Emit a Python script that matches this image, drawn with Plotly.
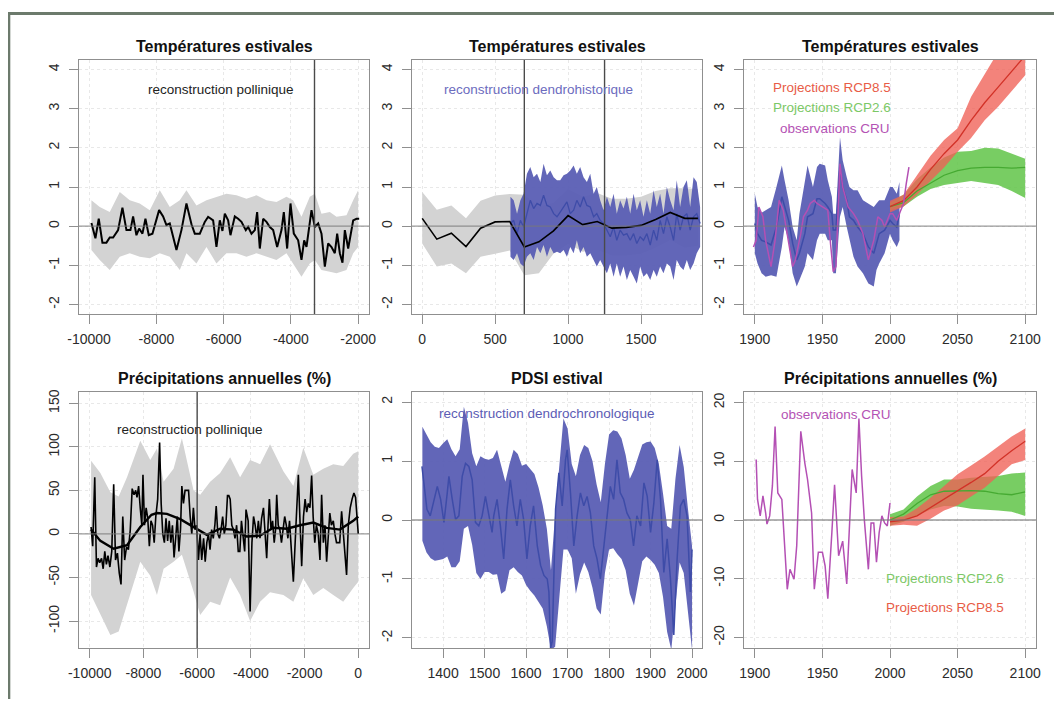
import plotly.graph_objects as go

# page is 1062x707; the html body has an 8px margin, so the figure is 16px smaller
PAGE_W, PAGE_H = 1062, 707
OFF = 8
W, H = PAGE_W - 2 * OFF, PAGE_H - 2 * OFF

# ---------------- DATA ----------------
# Panel 1 : Températures estivales, reconstruction pollinique
p1_years = [-9931,-9812,-9713,-9604,-9485,-9386,-9286,-9138,-9009,-8890,
            -8771,-8692,-8593,-8513,-8414,-8325,-8226,-8117,-7919,-7800,
            -7701,-7602,-7403,-7255,-7106,-6957,-6858,-6709,-6561,-6462,
            -6313,-6214,-6115,-6036,-5966,-5867,-5798,-5669,-5570,-5471,
            -5342,-5272,-5173,-5074,-5005,-4926,-4826,-4727,-4628,-4529,
            -4410,-4281,-4212,-4113,-4014,-3915,-3786,-3687,-3607,-3538,
            -3389,-3290,-3191,-3092,-2993,-2894,-2795,-2696,-2626,-2547,
            -2468,-2398,-2299,-2150,-2051,-1972]
p1_temp = [0.08,-0.31,0.19,-0.42,-0.42,-0.29,-0.29,-0.10,0.47,-0.10,
           -0.10,0.25,-0.23,-0.06,-0.19,0.19,-0.23,-0.19,0.41,0.25,
           0.03,0.07,-0.61,-0.10,0.58,0.05,-0.19,-0.19,0.11,0.24,
           0.15,-0.53,0.15,-0.12,0.32,0.15,-0.23,0.25,0.19,0.11,
           -0.10,-0.02,-0.19,-0.10,0.36,-0.57,0.19,0.11,-0.02,-0.10,
           -0.53,-0.10,0.36,-0.57,0.58,-0.19,-0.36,-0.86,-0.36,-0.53,
           0.41,-0.02,0.07,-0.19,-1.03,-0.44,-0.53,-0.69,-0.19,-0.69,
           -0.93,-0.10,-0.57,0.15,0.19,0.19]
p1_band_years = [-9931,-9683,-9386,-9088,-8791,-8494,-8196,-7899,-7602,-7304,
                 -7106,-6809,-6511,-6214,-5917,-5619,-5322,-5025,-4727,-4430,
                 -4133,-3935,-3687,-3439,-3290,-3092,-2845,-2646,-2349,-2150,-2002]
p1_band_upper = [0.66,0.49,0.36,0.87,0.66,0.58,0.41,0.92,0.49,0.66,
                 0.92,0.53,0.66,0.75,0.83,0.79,0.70,0.79,0.66,0.62,
                 0.75,0.66,0.24,0.75,0.83,0.32,0.36,0.24,0.28,0.66,0.92]
p1_band_lower = [-0.61,-0.86,-1.12,-0.78,-0.69,-0.78,-0.82,-0.69,-0.78,-1.12,
                 -0.69,-0.95,-0.53,-0.95,-0.69,-0.69,-0.78,-0.69,-0.78,-0.86,
                 -0.69,-0.95,-1.29,-0.95,-0.86,-1.12,-1.16,-1.20,-1.12,-0.69,-0.53]
p1_vline = -3300

# Panel 2 : Températures estivales, reconstruction dendrohistorique
p2_years = [0,100,200,300,400,500,600,700,800,900,
            1000,1100,1200,1300,1400,1500,1600,1700,1800,1890]
p2_pollen = [0.2,-0.33,-0.18,-0.52,-0.05,0.11,0.12,-0.53,-0.4,-0.12,
             0.27,0.04,0.12,-0.05,-0.03,0.02,0.17,0.35,0.2,0.2]
p2_pollen_upper = [0.87,0.42,0.53,0.2,0.65,0.78,0.82,0.8,0.5,0.6,
                   0.95,0.75,0.85,0.7,0.7,0.75,0.9,0.97,0.97,0.95]
p2_pollen_lower = [-0.44,-1.03,-0.95,-1.2,-0.78,-0.7,-0.62,-1.25,-1.2,-0.7,
                   -0.45,-0.65,-0.6,-0.75,-0.75,-0.7,-0.55,-0.35,-0.55,-0.5]
p2_dendro_years = [605,627,650,673,695,718,741,764,787,810,
                   832,855,878,901,924,946,969,992,1015,1038,
                   1060,1083,1106,1129,1152,1175,1197,1220,1243,1266,
                   1289,1312,1334,1357,1380,1403,1426,1449,1471,1494,
                   1517,1540,1563,1586,1608,1631,1654,1677,1700,1723,
                   1745,1768,1791,1814,1837,1860,1882,1905]
p2_dendro_upper = [0.75,0.66,0.32,0.66,0.83,1.34,1.51,1.25,1.34,1.13,
                   1.59,1.30,1.42,1.25,1.17,1.17,1.30,1.34,1.42,1.55,
                   1.34,1.51,1.25,1.13,1.34,0.83,1.00,0.66,0.41,0.75,
                   0.49,0.83,0.32,0.66,0.45,0.75,0.32,0.83,0.41,0.66,
                   0.24,0.66,0.32,0.92,0.49,0.83,0.32,1.00,0.66,0.41,
                   1.17,0.49,1.00,1.17,0.49,1.25,1.13,0.49]
p2_dendro_lower = [-0.78,-0.86,-0.69,-0.95,-1.03,-0.78,-0.69,-0.86,-0.53,-0.69,
                   -0.48,-0.78,-0.53,-0.69,-0.65,-0.69,-0.61,-0.78,-0.53,-0.69,
                   -0.36,-0.69,-0.53,-0.78,-0.69,-0.86,-1.03,-0.86,-1.03,-1.20,
                   -0.95,-1.29,-0.95,-1.29,-1.03,-1.37,-1.12,-1.29,-1.46,-1.03,
                   -1.29,-1.20,-1.37,-1.12,-1.29,-1.03,-1.20,-0.95,-1.03,-1.37,
                   -0.86,-1.03,-1.12,-0.86,-1.12,-0.95,-0.69,-0.53]
p2_dendro_mid = [0.07,0.15,-0.19,0.15,-0.02,0.32,0.66,0.45,0.58,0.53,
                 0.79,0.53,0.49,0.32,0.24,0.36,0.49,0.62,0.32,0.41,
                 0.66,0.49,0.75,0.53,0.49,0.24,0.32,0.15,0.07,-0.10,
                 -0.27,-0.02,-0.36,-0.10,-0.23,-0.19,-0.36,-0.19,-0.44,-0.27,
                 -0.36,-0.19,-0.48,-0.10,-0.36,0.15,-0.19,0.24,-0.02,-0.36,
                 0.32,-0.10,0.24,0.32,-0.10,0.24,0.32,0.07]
p2_vlines = [700, 1250]

# Panel 3 : Températures estivales, observations & projections
p3_obs_years = [1900,1902,1905,1908,1912,1916,1920,1922,1925,1928,
                1931,1933,1937,1939,1943,1946,1948,1952,1954,1957,
                1958,1960,1963,1965,1968,1970,1973,1976,1980,1984,
                1988,1990,1992,1996,2000,2002,2005,2007]
p3_obs_upper = [0.83,0.49,0.34,0.41,0.49,1.00,1.55,1.17,0.66,-0.02,
                -0.36,0.32,1.08,1.55,1.00,1.51,1.59,1.55,1.17,0.75,
                0.32,0.32,2.27,1.68,1.25,1.00,0.92,0.92,0.66,0.58,
                0.49,0.58,0.66,0.66,1.00,1.00,0.83,1.13]
p3_obs_lower = [-0.69,-0.95,-1.20,-1.29,-1.25,-1.29,-0.53,-0.02,-0.36,-1.20,
                -1.54,-1.37,-1.03,-0.69,-0.86,-0.36,-0.19,-0.19,-0.36,-0.36,
                -1.20,-1.20,0.24,0.49,-0.02,-0.36,-0.78,-1.03,-1.20,-1.46,
                -1.54,-1.12,-0.95,-0.69,-0.19,-0.36,-0.53,-0.36]
p3_obs_mid = [0.07,-0.19,-0.36,-0.40,-0.48,-0.02,0.75,0.49,0.15,-0.44,
              -0.86,-0.69,-0.19,0.24,0.32,0.70,0.70,0.58,0.49,0.32,
              -0.10,-0.10,1.51,1.00,0.66,0.24,0.15,-0.02,-0.19,-0.53,
              -0.69,-0.44,-0.19,-0.10,0.15,0.07,-0.02,0.32]
p3_cru_years = [1899,1901,1903,1906,1908,1912,1915,1918,1921,1924,
                1928,1930,1934,1936,1939,1941,1944,1946,1950,1954,
                1956,1958,1960,1963,1965,1969,1973,1976,1980,1984,
                1988,1991,1994,1996,2000,2002,2005,2007,2010,2012,2014]
p3_cru = [-0.53,-0.36,0.49,0.24,-0.36,-1.03,-0.36,0.66,0.41,-0.19,
          -1.03,-0.86,-0.19,0.24,0.41,0.58,0.66,0.58,0.49,0.41,
          -0.44,-1.16,-1.03,1.59,1.00,0.49,0.32,0.15,-0.19,-0.86,
          -0.36,0.24,0.15,-0.02,0.32,0.32,0.15,0.32,0.58,1.08,1.51]
proj_years = [2000,2010,2020,2030,2040,2050,2060,2070,2080,2090,2100]
p3_rcp85_mid = [0.5,0.65,1.0,1.45,1.85,2.2,2.7,3.15,3.55,3.95,4.35]
p3_rcp85_upper = [0.65,0.8,1.3,1.8,2.2,2.5,3.3,3.9,4.45,5.0,5.5]
p3_rcp85_lower = [0.35,0.5,0.8,1.15,1.5,1.9,2.25,2.7,3.05,3.45,3.85]
p3_rcp26_mid = [0.5,0.6,0.9,1.1,1.3,1.42,1.48,1.5,1.5,1.48,1.5]
p3_rcp26_upper = [0.6,0.8,1.2,1.5,1.75,1.9,1.92,2.0,1.98,1.85,1.72]
p3_rcp26_lower = [0.4,0.5,0.75,0.95,1.05,1.1,1.15,1.1,1.05,0.9,0.72]

# Panel 4 : Précipitations annuelles (%), reconstruction pollinique
p4_years = [-9950,-9890,-9814,-9750,-9690,-9630,-9560,-9500,-9440,-9380,
            -9320,-9250,-9180,-9108,-9040,-8970,-8900,-8835,-8770,-8700,
            -8630,-8560,-8490,-8420,-8350,-8290,-8240,-8180,-8120,-8060,
            -8018,-7960,-7900,-7840,-7780,-7720,-7660,-7600,-7540,-7470,
            -7398,-7340,-7280,-7220,-7160,-7100,-7040,-6980,-6920,-6860,
            -6800,-6740,-6680,-6620,-6570,-6510,-6450,-6390,-6320,-6260,
            -6200,-6140,-6080,-6020,-5950,-5890,-5830,-5760,-5700,-5640,
            -5580,-5520,-5460,-5400,-5340,-5290,-5230,-5170,-5110,-5050,
            -4990,-4930,-4870,-4820,-4770,-4710,-4650,-4590,-4530,-4470,
            -4410,-4350,-4290,-4230,-4180,-4100,-4028,-3960,-3900,-3840,
            -3780,-3720,-3660,-3600,-3530,-3470,-3410,-3360,-3310,-3250,
            -3190,-3130,-3080,-3037,-2980,-2920,-2860,-2800,-2740,-2680,
            -2620,-2560,-2500,-2460,-2417,-2320,-2231,-2170,-2107,-2040,
            -1980,-1920,-1860,-1800,-1736,-1680,-1620,-1560,-1490,-1426,
            -1364,-1300,-1240,-1178,-1120,-1060,-1000,-930,-870,-810,
            -750,-690,-620,-560,-500,-435,-370,-300,-230,-162,
            -100,-40,0]
p4_prec = [8,-14,65,-38,-28,-33,-28,-40,-20,-35,
           -25,-38,-20,57,-30,-22,-45,-58,20,-30,
           -15,-18,5,52,45,50,42,55,30,10,
           68,10,30,18,-14,15,10,-10,20,40,
           105,35,0,-10,18,-8,15,-10,10,-27,
           -5,20,-20,5,55,35,50,50,50,20,
           0,30,5,10,-30,0,-30,-5,-32,-10,
           0,-18,5,-5,10,32,0,-5,5,20,
           0,10,44,44,40,10,5,-5,10,-20,
           -20,15,-5,-20,28,15,-89,-10,20,10,
           -5,15,-5,18,30,5,-28,10,40,5,
           15,-10,5,45,10,5,-10,5,20,10,
           -5,15,-20,-30,-55,10,68,15,-37,20,
           40,25,35,30,67,20,-10,10,0,-30,
           45,-10,10,-32,0,24,10,15,0,-10,
           -10,-10,26,5,-20,-47,10,30,40,47,
           42,20,0]
p4_smooth_years = [-9950,-9604,-9108,-8612,-8117,-7700,-7497,-7125,-6630,-6134,
                   -5639,-5143,-4647,-4152,-3656,-3160,-2665,-2169,-1674,-1178,
                   -683,-187,0]
p4_smooth = [5,-8,-17,-13,8,22,24,23,17,8,
             -1,6,5,-3,-2,7,6,10,13,7,
             5,15,20]
p4_band_years = [-9950,-9604,-9232,-8922,-8612,-8117,-7745,-7497,-7249,-6878,
                 -6568,-6134,-5887,-5515,-5143,-4771,-4400,-4028,-3656,-3285,
                 -2789,-2417,-2046,-1674,-1302,-931,-559,-187,0]
p4_band_upper = [84,70,48,43,65,107,85,98,60,75,
                 110,50,45,60,70,88,65,85,80,103,
                 72,55,99,68,75,80,78,92,95]
p4_band_lower = [-70,-93,-116,-112,-80,-32,-48,-70,-40,-32,
                 -24,-66,-93,-78,-82,-50,-70,-100,-78,-67,
                 -70,-78,-51,-70,-62,-70,-78,-62,-55]
p4_vline = -6000

# Panel 5 : PDSI estival, reconstruction dendrochronologique
p5_band_years = [1350,1360,1370,1380,1390,1400,1410,1420,1430,1440,
                 1450,1460,1470,1480,1490,1500,1510,1520,1530,1540,
                 1550,1560,1570,1580,1590,1600,1610,1620,1630,1640,
                 1650,1660,1670,1680,1690,1700,1710,1720,1730,1740,
                 1750,1760,1770,1780,1790,1800,1810,1820,1830,1840,
                 1850,1860,1870,1880,1890,1900,1910,1920,1930,1940,
                 1950,1960,1970,1980,1990,2000]
p5_upper = [1.58,1.45,1.32,1.24,1.22,1.30,1.37,1.20,1.08,1.20,
            1.92,1.65,1.13,0.91,1.08,1.04,1.02,1.05,1.19,0.92,
            0.65,0.95,1.19,1.12,0.92,0.95,0.86,0.78,0.55,0.25,
            -0.15,-0.85,0.10,0.85,1.72,1.55,0.95,0.74,1.10,1.27,
            1.22,1.00,0.60,0.30,0.95,1.45,1.52,1.50,1.38,1.10,
            0.70,0.85,1.05,1.28,1.32,1.33,1.22,0.95,0.45,-0.10,
            -0.15,0.70,1.27,0.90,0.20,-0.44]
p5_lower = [-0.35,-0.55,-0.65,-0.69,-0.68,-0.66,-0.62,-0.80,-0.80,-0.70,
            -0.15,-0.10,-0.42,-0.90,-1.00,-0.88,-0.88,-0.93,-0.92,-1.25,
            -1.20,-0.85,-0.80,-0.88,-0.94,-1.10,-1.20,-1.28,-1.38,-1.50,
            -1.80,-2.20,-2.15,-1.35,-0.50,-0.50,-0.65,-1.25,-0.92,-0.72,
            -0.88,-1.15,-1.50,-1.60,-0.90,-0.50,-0.48,-0.58,-0.66,-0.85,
            -1.25,-1.45,-1.10,-0.70,-0.62,-0.68,-0.76,-0.90,-1.30,-1.90,
            -2.20,-1.40,-0.72,-0.90,-1.50,-2.20]
p5_line_years = [1349,1353,1361,1369,1378,1386,1394,1402,1410,1414,
                 1422,1430,1438,1446,1454,1462,1470,1478,1486,1494,
                 1502,1510,1518,1522,1530,1538,1546,1554,1562,1570,
                 1578,1586,1594,1602,1610,1618,1627,1635,1643,1651,
                 1655,1659,1663,1671,1679,1687,1695,1699,1707,1715,
                 1723,1731,1739,1747,1755,1763,1771,1779,1787,1795,
                 1803,1811,1819,1827,1835,1843,1851,1859,1867,1876,
                 1884,1892,1900,1908,1916,1924,1932,1940,1948,1956,
                 1964,1972,1980,1988,1996,2000]
p5_pdsi = [0.91,0.63,0.18,0.07,0.35,0.57,0.35,-0.04,0.46,0.74,
           0.35,0.01,0.07,0.74,0.96,0.91,0.68,-0.04,-0.10,0.07,
           0.40,0.12,-0.21,0.07,0.35,-0.10,-0.66,0.18,0.68,0.24,
           -0.10,0.35,0.01,-0.66,-0.10,0.24,-0.44,-0.77,-0.94,-1.00,
           -1.22,-2.17,-2.06,0.18,0.80,0.24,1.02,1.19,0.46,-0.44,
           0.07,0.46,0.24,0.40,0.12,-0.44,-0.66,-1.00,-0.44,0.12,
           0.57,0.35,1.02,0.46,0.35,0.12,0.01,-0.44,0.07,-0.10,
           0.63,0.40,-0.21,0.29,1.02,0.35,-0.89,-0.32,-1.00,-1.95,
           -0.66,0.24,0.35,0.07,-1.22,-0.50]

# Panel 6 : Précipitations annuelles (%), observations & projections
p6_cru_years = [1901,1902,1904,1906,1908,1909,1911,1913,1915,1917,
                1920,1922,1924,1926,1929,1931,1934,1937,1939,1942,
                1944,1947,1950,1952,1954,1957,1959,1962,1965,1968,
                1971,1972,1975,1977,1979,1981,1984,1986,1988,1990,
                1992,1994,1996,1998,2000]
p6_cru = [10.3,3.5,0.7,4.1,1.2,-0.7,0.7,5.8,15.9,4.6,
          3.5,-4.4,-11.8,-8.4,-10.1,-4.4,15.1,9.7,6.9,1.2,
          -11.8,-5.5,-5.5,-7.8,-13.4,-2.1,6.0,-6.1,-3.6,-10.9,
          2.9,8.6,4.6,17.3,7.5,0.1,-8.4,-0.5,-0.5,-7.2,
          -2.1,0.7,-0.5,-1.0,2.9]
p6_rcp85_mid = [-0.3,0.0,0.7,2.1,3.5,4.9,6.4,7.9,10.0,11.8,13.4]
p6_rcp85_upper = [0.5,0.6,2.0,3.8,5.8,7.8,9.3,10.8,12.5,14.2,15.6]
p6_rcp85_lower = [-1.0,-0.8,-1.0,0.2,1.6,2.5,4.0,5.5,7.5,9.5,10.2]
p6_rcp26_mid = [0.0,1.0,2.8,4.3,4.9,5.0,5.0,4.9,4.5,4.3,4.8]
p6_rcp26_upper = [1.0,1.8,4.0,5.8,6.9,6.9,7.2,7.4,7.5,7.9,8.1]
p6_rcp26_lower = [-1.0,-0.3,0.8,1.8,2.4,2.3,1.9,1.7,1.6,1.4,0.7]

titles = ["Températures estivales", "Températures estivales", "Températures estivales",
          "Précipitations annuelles (%)", "PDSI estival", "Précipitations annuelles (%)"]

# ---------------- STYLE ----------------
GRAY_BAND = "rgb(211,211,211)"
BLUE_BAND = "rgba(90,94,180,0.95)"
BLUE_LINE = "rgb(62,76,168)"
MAGENTA = "rgb(180,80,180)"
RED_BAND = "rgba(240,96,86,0.78)"
RED_LINE = "rgb(210,50,40)"
GREEN_BAND = "rgba(96,196,72,0.85)"
GREEN_LINE = "rgb(70,170,50)"
FONT = "Liberation Sans, Arial, Helvetica, sans-serif"

fig = go.Figure()

def ax(n, kind):
    return kind if n == "1" else kind + n

def band(x, up, lo, color, n):
    fig.add_trace(go.Scatter(x=list(x) + list(x)[::-1], y=list(up) + list(lo)[::-1],
                             fill="toself", fillcolor=color, mode="lines",
                             line=dict(width=0), hoverinfo="skip", showlegend=False,
                             xaxis=ax(n, "x"), yaxis=ax(n, "y")))

def line(x, y, color, width, n):
    fig.add_trace(go.Scatter(x=x, y=y, mode="lines", line=dict(color=color, width=width),
                             hoverinfo="skip", showlegend=False,
                             xaxis=ax(n, "x"), yaxis=ax(n, "y")))

# Panel 1
band(p1_band_years, p1_band_upper, p1_band_lower, GRAY_BAND, "1")
line(p1_years, p1_temp, "black", 2, "1")
# Panel 2
band(p2_years, p2_pollen_upper, p2_pollen_lower, GRAY_BAND, "2")
band(p2_dendro_years, p2_dendro_upper, p2_dendro_lower, BLUE_BAND, "2")
line(p2_dendro_years, p2_dendro_mid, BLUE_LINE, 1.3, "2")
line(p2_years, p2_pollen, "black", 1.6, "2")
# Panel 3
band(p3_obs_years, p3_obs_upper, p3_obs_lower, BLUE_BAND, "3")
line(p3_obs_years, p3_obs_mid, BLUE_LINE, 1.5, "3")
band(proj_years, p3_rcp26_upper, p3_rcp26_lower, GREEN_BAND, "3")
band(proj_years, p3_rcp85_upper, p3_rcp85_lower, RED_BAND, "3")
line(proj_years, p3_rcp26_mid, GREEN_LINE, 1.3, "3")
line(proj_years, p3_rcp85_mid, RED_LINE, 1.3, "3")
line(p3_cru_years, p3_cru, MAGENTA, 1.5, "3")
# Panel 4
band(p4_band_years, p4_band_upper, p4_band_lower, GRAY_BAND, "4")
line(p4_years, p4_prec, "black", 1.6, "4")
line(p4_smooth_years, p4_smooth, "black", 2.4, "4")
# Panel 5
band(p5_band_years, p5_upper, p5_lower, BLUE_BAND, "5")
line(p5_line_years, p5_pdsi, BLUE_LINE, 1.5, "5")
# Panel 6
band(proj_years, p6_rcp26_upper, p6_rcp26_lower, GREEN_BAND, "6")
band(proj_years, p6_rcp85_upper, p6_rcp85_lower, RED_BAND, "6")
line(proj_years, p6_rcp26_mid, GREEN_LINE, 1.3, "6")
line(proj_years, p6_rcp85_mid, RED_LINE, 1.3, "6")
line(p6_cru_years, p6_cru, MAGENTA, 1.5, "6")

# ---------------- AXES (positions given in page pixels) ----------------
def fx(px):
    return (px - OFF) / W

def fy(py):
    return 1 - (py - OFF) / H

cols = [[fx(79), fx(369)], [fx(412), fx(702)], [fx(744), fx(1036)]]
rows = [[fy(314), fy(60)], [fy(648), fy(392)]]

panels = {
    "1": dict(col=0, row=0, xr=[-10300, -1680], xt=[-10000, -8000, -6000, -4000, -2000],
              yr=[-2.24, 4.24], yt=[-2, -1, 0, 1, 2, 3, 4]),
    "2": dict(col=1, row=0, xr=[-70, 1918], xt=[0, 500, 1000, 1500],
              yr=[-2.24, 4.24], yt=[-2, -1, 0, 1, 2, 3, 4]),
    "3": dict(col=2, row=0, xr=[1892, 2108], xt=[1900, 1950, 2000, 2050, 2100],
              yr=[-2.24, 4.24], yt=[-2, -1, 0, 1, 2, 3, 4]),
    "4": dict(col=0, row=1, xr=[-10400, 400], xt=[-10000, -8000, -6000, -4000, -2000, 0],
              yr=[-131, 163], yt=[-100, -50, 0, 50, 100, 150]),
    "5": dict(col=1, row=1, xr=[1325, 2024], xt=[1400, 1500, 1600, 1700, 1800, 1900, 2000],
              yr=[-2.17, 2.17], yt=[-2, -1, 0, 1, 2]),
    "6": dict(col=2, row=1, xr=[1892, 2108], xt=[1900, 1950, 2000, 2050, 2100],
              yr=[-21.8, 21.8], yt=[-20, -10, 0, 10, 20]),
}

tickfont = dict(family=FONT, size=14, color="#2b2b2b")
common = dict(showline=True, linecolor="#8f8f8f", linewidth=1.3, mirror=True,
              ticks="outside", ticklen=9, tickcolor="#8f8f8f", tickwidth=1.2,
              showgrid=True, gridcolor="#e8e8e8", griddash="dot", gridwidth=1,
              zeroline=False, tickfont=tickfont, fixedrange=True, automargin=False)

layout_axes = {}
shapes = []
annotations = []
for n, p in panels.items():
    layout_axes[ax(n, "xaxis")] = dict(domain=cols[p["col"]], anchor=ax(n, "y"),
                                       range=p["xr"], tickvals=p["xt"],
                                       ticktext=[str(v) for v in p["xt"]],
                                       ticklabelstandoff=3, **common)
    layout_axes[ax(n, "yaxis")] = dict(domain=rows[p["row"]], anchor=ax(n, "x"),
                                       range=p["yr"], tickvals=p["yt"],
                                       ticktext=[str(v) for v in p["yt"]],
                                       tickangle=-90, ticklabelstandoff=4, **common)
    shapes.append(dict(type="line", xref=ax(n, "x") + " domain", yref=ax(n, "y"),
                       x0=0, x1=1, y0=0, y1=0,
                       line=dict(color="rgba(120,120,120,0.75)", width=1.3), layer="above"))
    c = cols[p["col"]]
    r = rows[p["row"]]
    annotations.append(dict(text="<b>" + titles[int(n) - 1] + "</b>", xref="paper", yref="paper",
                            x=(c[0] + c[1]) / 2, y=r[1] + 14 / H, xanchor="center",
                            yanchor="middle", showarrow=False,
                            font=dict(family=FONT, size=16, color="#111")))

def vline(xv, n):
    shapes.append(dict(type="line", xref=ax(n, "x"), yref=ax(n, "y") + " domain",
                       x0=xv, x1=xv, y0=0, y1=1,
                       line=dict(color="#4a4a4a", width=1.4), layer="above"))

vline(p1_vline, "1")
for v in p2_vlines:
    vline(v, "2")
vline(p4_vline, "4")

def label(text, x, y, n, color):
    annotations.append(dict(text=text, x=x, y=y, xref=ax(n, "x"), yref=ax(n, "y"),
                            showarrow=False, xanchor="center", yanchor="middle",
                            font=dict(family=FONT, size=13.5, color=color)))

label("reconstruction pollinique", -6066, 3.5, "1", "#222")
label("reconstruction dendrohistorique", 800, 3.5, "2", "rgb(108,108,190)")
label("Projections RCP8.5", 1957, 3.53, "3", "rgb(232,92,70)")
label("Projections RCP2.6", 1957, 3.03, "3", "rgb(124,200,102)")
label("observations CRU", 1959, 2.5, "3", "rgb(180,82,180)")
label("reconstruction pollinique", -6260, 120, "4", "#222")
label("reconstruction dendrochronologique", 1650, 1.80, "5", "rgb(92,92,180)")
label("observations CRU", 1960, 17.9, "6", "rgb(180,82,180)")
label("Projections RCP2.6", 2041, -9.9, "6", "rgb(124,200,102)")
label("Projections RCP8.5", 2041, -14.9, "6", "rgb(232,92,70)")

# outer frame (left and top edges visible in the picture)
FRAME = "rgb(108,122,108)"
shapes.append(dict(type="line", xref="paper", yref="paper", x0=fx(8.8), x1=fx(8.8),
                   y0=-0.05, y1=fy(13.5), line=dict(color=FRAME, width=3), layer="above"))
shapes.append(dict(type="line", xref="paper", yref="paper", x0=fx(7.3), x1=1.05,
                   y0=fy(13.5), y1=fy(13.5), line=dict(color=FRAME, width=3), layer="above"))

fig.update_layout(width=W, height=H, margin=dict(l=0, r=0, t=0, b=0, autoexpand=False),
                  paper_bgcolor="white", plot_bgcolor="white",
                  shapes=shapes, annotations=annotations, showlegend=False,
                  **layout_axes)

fig.write_html("out.html")
